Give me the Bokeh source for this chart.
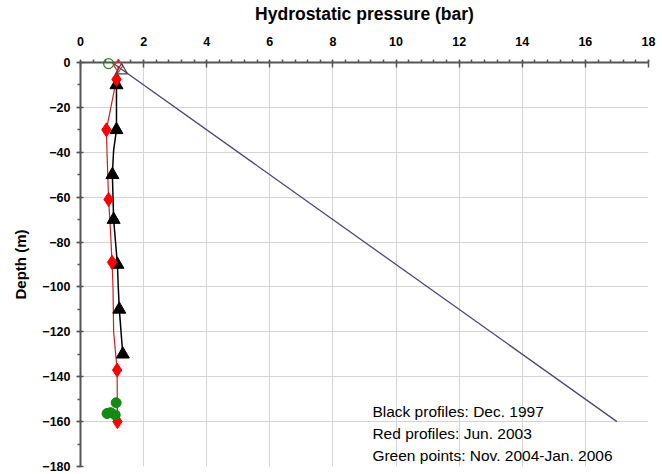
from bokeh.plotting import figure
from bokeh.models import Range1d, Label, FixedTicker
from bokeh.embed import file_html
from bokeh.resources import INLINE

# Hydrostatic reference line (bar vs depth)
hydro_p = [1.0, 17.0]
hydro_d = [0, -160]

# Black profiles (Dec. 1997)
black_p = [1.14, 1.14, 1.05, 1.01, 1.05, 1.17, 1.20, 1.23, 1.34]
black_d = [-10, -30, -39, -50, -70, -90, -101, -110, -130]
tri_p = [1.14, 1.14, 1.01, 1.05, 1.17, 1.23, 1.34]
tri_d = [-10, -30, -50, -70, -90, -110, -130]

# Red profiles (Jun. 2003)
red_line_p = [1.20, 1.14, 0.82, 0.84, 0.89, 0.95, 1.00, 1.03, 1.05, 1.16, 1.17]
red_line_d = [-1.5, -7.5, -30, -40, -61, -75, -89, -100, -120, -137, -160]
dia_p = [1.14, 0.82, 0.89, 1.00, 1.16, 1.17]
dia_d = [-7.5, -30, -61, -89, -137, -160]

# Green points (Nov. 2004 - Jan. 2006)
green_p = [1.13, 0.95, 0.84, 1.10]
green_d = [-151.6, -156, -156.4, -157]

# Surface (open) markers
surf_circle = (0.89, -0.5)
surf_diamond = (1.20, -1.5)
surf_triangle = (1.30, -3.5)

x_ticks = list(range(0, 19, 2))
y_ticks = list(range(-180, 1, 20))

notes = ["Black profiles: Dec. 1997", "Red profiles: Jun. 2003",
         "Green points: Nov. 2004-Jan. 2006"]

FONT = "Liberation Sans"

p = figure(width=662, height=474, x_axis_location="above",
           x_range=Range1d(0, 18), y_range=Range1d(-180, 0),
           output_backend="svg", toolbar_location=None,
           min_border_left=80, min_border_right=14, min_border_top=62, min_border_bottom=8)
p.outline_line_color = None
p.background_fill_color = "white"

p.xaxis.ticker = FixedTicker(ticks=x_ticks, minor_ticks=[i * 0.4 for i in range(0, 46)])
p.yaxis.ticker = FixedTicker(ticks=y_ticks, minor_ticks=list(range(-180, 1, 10)))

for ax in (p.xaxis[0], p.yaxis[0]):
    ax.axis_line_color = "#555555"
    ax.axis_line_width = 2
    ax.major_tick_line_color = "#555555"
    ax.minor_tick_line_color = "#555555"
    ax.major_tick_line_width = 1.5
    ax.minor_tick_line_width = 1.5
    ax.major_label_text_font = FONT
    ax.major_label_text_font_style = "bold"
    ax.major_label_text_font_size = "12.5px"
    ax.major_label_text_color = "black"
    ax.axis_label_text_font = FONT
    ax.axis_label_text_font_style = "bold"
    ax.axis_label_text_color = "black"

p.xaxis.axis_label = "Hydrostatic pressure (bar)"
p.yaxis.axis_label = "Depth (m)"
p.xaxis.axis_label_text_font_size = "17.5px"
p.yaxis.axis_label_text_font_size = "15px"
p.xaxis.major_tick_in = 5
p.xaxis.major_tick_out = 2
p.xaxis.minor_tick_in = 0
p.xaxis.minor_tick_out = 3
p.xaxis.major_label_standoff = 14
p.xaxis.axis_label_standoff = 10
p.yaxis.major_tick_in = 3
p.yaxis.major_tick_out = 4
p.yaxis.minor_tick_in = 0
p.yaxis.minor_tick_out = 3
p.yaxis.major_label_standoff = 6
p.yaxis.axis_label_standoff = 10

p.xgrid.ticker = FixedTicker(ticks=x_ticks)
p.ygrid.ticker = FixedTicker(ticks=y_ticks)
p.grid.grid_line_color = "#d4d4d4"
p.grid.grid_line_width = 1

# Hydrostatic line
p.line(hydro_p, hydro_d, line_color="#4a4a78", line_width=1.3)

# Profiles
p.line(red_line_p, red_line_d, line_color="#cc1f1f", line_width=1.2)
p.line(black_p, black_d, line_color="black", line_width=1.5)
p.scatter(tri_p, tri_d, marker="triangle", size=13, fill_color="black", line_color="black")
p.scatter(dia_p, dia_d, marker="diamond", size=14, fill_color="#ff0000", line_color="#ff0000")
p.scatter(green_p, green_d, marker="circle", size=10, fill_color="#138a13", line_color="#138a13")

# Surface open markers
p.scatter([surf_circle[0]], [surf_circle[1]], marker="circle", size=10,
          fill_color=None, line_color="#138a13", line_width=1.2, level="overlay")
p.scatter([surf_diamond[0]], [surf_diamond[1]], marker="diamond", size=13,
          fill_color=None, line_color="#e03030", line_width=1.2, level="overlay")
p.scatter([surf_triangle[0]], [surf_triangle[1]], marker="triangle", size=12,
          fill_color=None, line_color="#444444", line_width=1.2, level="overlay")

for i, t in enumerate(notes):
    p.add_layout(Label(x=9.25, y=-155.5 - 9.8 * i, text=t, text_font=FONT,
                       text_font_size="15.5px", text_color="black",
                       text_baseline="middle", text_align="left"))

open("out.html", "w").write(file_html(p, INLINE))
